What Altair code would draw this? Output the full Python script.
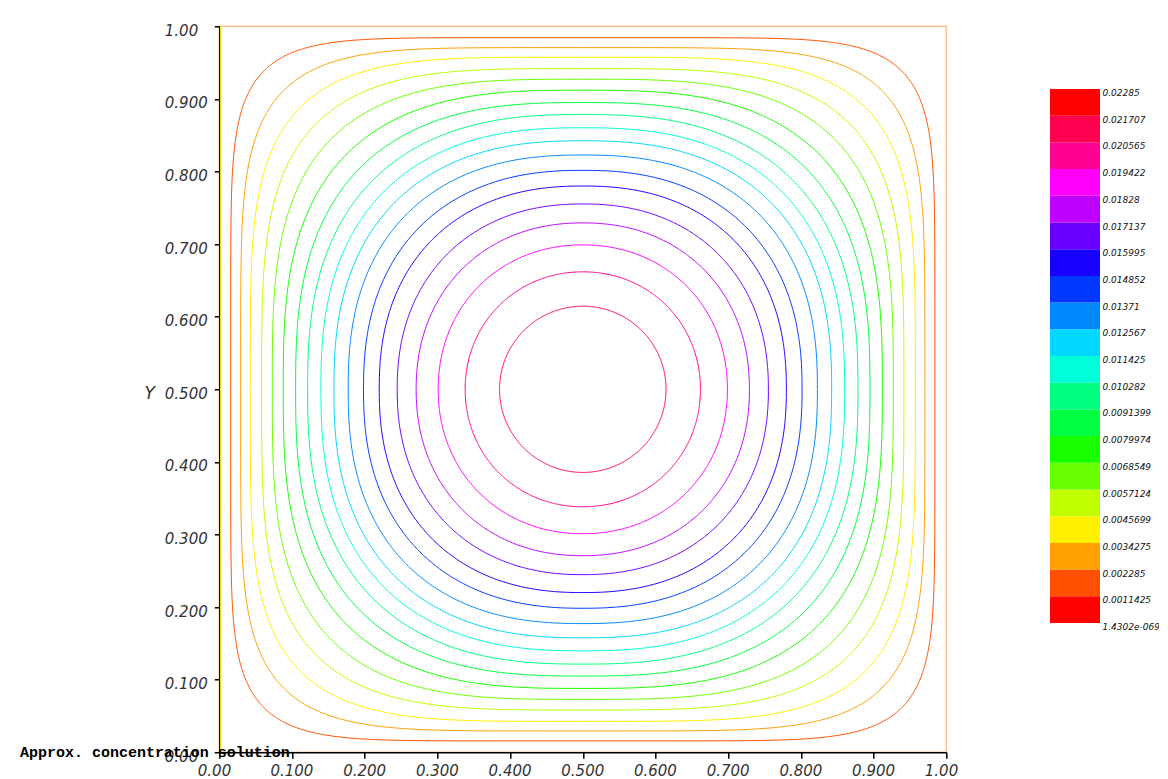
import numpy as np
import pandas as pd
import altair as alt

# ---------------- data ----------------
# contour index k -> iso value k * step
step = 0.0011425
contour_k = list(range(1, 19))
# x where each iso-line crosses the horizontal mid line y = 0.5 (left side)
x_left = [0.0157, 0.0294, 0.0426, 0.0583, 0.0729, 0.0880, 0.1050, 0.1215, 0.1398,
          0.1577, 0.1773, 0.1984, 0.2200, 0.2447, 0.2708, 0.3011, 0.3382, 0.3855]
# x where each iso-line crosses the diagonal y = 1 - x (upper-left quadrant)
diag_x = [0.0614, 0.0885, 0.1115, 0.1336, 0.1545, 0.1756, 0.1944, 0.2116, 0.2270,
          0.2420, 0.2582, 0.2760, 0.2934, 0.3137, 0.3342, 0.3575, 0.3848, 0.4190]

# colour bar: 20 bands from bottom (0) to top (19)
band_colors = ["#FF0000", "#FF5000", "#FFA000", "#FFF000", "#BFFF00", "#6AFF00",
               "#18FF00", "#00FF40", "#00FF80", "#00FFD8", "#00D8FF", "#0088FF",
               "#0038FF", "#1800FF", "#6A00FF", "#C000FF", "#FF00FF", "#FF0090",
               "#FF0050", "#FF0000"]
cb_labels = ["1.4302e-069", "0.0011425", "0.002285", "0.0034275", "0.0045699",
             "0.0057124", "0.0068549", "0.0079974", "0.0091399", "0.010282",
             "0.011425", "0.012567", "0.01371", "0.014852", "0.015995", "0.017137",
             "0.01828", "0.019422", "0.020565", "0.021707", "0.02285"]
cb_values = [float(s) for s in cb_labels]

tick_values = [i / 10 for i in range(11)]
tick_labels = ["0.00", "0.100", "0.200", "0.300", "0.400", "0.500",
               "0.600", "0.700", "0.800", "0.900", "1.00"]

title_text = "Approx. concentration solution"

# ---------------- build tables ----------------
rows = []
theta = np.linspace(0, 2 * np.pi, 721)
for k, xl, dx in zip(contour_k, x_left, diag_x):
    r = 0.5 - xl
    d = 0.5 - dx
    p = np.log(2) / np.log(r / d)
    c, s = np.cos(theta), np.sin(theta)
    xs = 0.5 + r * np.sign(c) * np.abs(c) ** (2 / p)
    ys = 0.5 + r * np.sign(s) * np.abs(s) ** (2 / p)
    for i, (xx, yy) in enumerate(zip(xs, ys)):
        rows.append({"contour": k, "band": k, "i": i, "x": xx, "y": yy})
df = pd.DataFrame(rows)

cb_df = pd.DataFrame({
    "band": list(range(20)),
    "lo": cb_values[:-1],
    "hi": cb_values[1:],
})
lab_df = pd.DataFrame({"val": cb_values, "lab": cb_labels})

vmax = cb_values[-1]
label_expr = "[" + ",".join("'" + s + "'" for s in tick_labels) + "][round(datum.value*10)]"

color_scale = alt.Scale(domain=list(range(20)), range=band_colors)
cb_y_scale = alt.Scale(domain=[0, vmax], range=[596.7, 62.7], nice=False, zero=False)

lines = alt.Chart(df).mark_line(strokeWidth=1).encode(
    x=alt.X("x:Q", scale=alt.Scale(domain=[0, 1], nice=False, zero=False),
            axis=alt.Axis(values=tick_values, labelExpr=label_expr, title=None,
                          tickSize=6, labelAlign="left", labelOffset=-22,
                          labelPadding=5, labelBaseline="top",
                          labelFlush=False, labelOverlap=False)),
    y=alt.Y("y:Q", scale=alt.Scale(domain=[0, 1], nice=False, zero=False),
            axis=alt.Axis(values=tick_values, labelExpr=label_expr, title="Y",
                          tickSize=5, labelAlign="left", labelBaseline="middle",
                          labelOffset=4, labelPadding=50,
                          titleAngle=0, titleX=-70, titleY=367,
                          titleAlign="center", titleBaseline="middle",
                          labelFlush=False, labelOverlap=False)),
    color=alt.Color("band:O", scale=color_scale, legend=None),
    detail="contour:N",
    order="i:Q",
)

edge = alt.Chart(pd.DataFrame({"a": [0]})).mark_rule(
    color="#FFEE00", strokeWidth=1.3, xOffset=1.5
).encode(x=alt.datum(0), y=alt.datum(0), y2=alt.datum(1))

main = alt.layer(edge, lines)

cb_rect = alt.Chart(cb_df).mark_rect().encode(
    y=alt.Y("lo:Q", scale=cb_y_scale, axis=None),
    y2="hi:Q",
    x=alt.value(830.7),
    x2=alt.value(880.7),
    color=alt.Color("band:O", scale=color_scale, legend=None),
)
cb_text = alt.Chart(lab_df).mark_text(
    align="left", baseline="middle", dy=4, fontSize=9, fontStyle="italic",
    font="DejaVu Sans", color="#111111"
).encode(
    y=alt.Y("val:Q", scale=cb_y_scale, axis=None),
    x=alt.value(883.2),
    text="lab:N",
)
cbar = alt.layer(cb_rect, cb_text)

chart = alt.layer(main, cbar).resolve_scale(
    x="independent", y="independent"
).properties(
    width=727,
    height=726,
    autosize=alt.AutoSizeParams(type="none"),
    padding={"left": 211.3, "top": 18.3, "right": 212.5, "bottom": 30},
    title=alt.TitleParams(
        text=title_text, orient="bottom", anchor="start", frame="group",
        font="Liberation Mono", fontSize=15, fontWeight="bold", color="black",
        dx=-199.3, dy=-21.5, offset=0, baseline="alphabetic",
    ),
).configure_view(
    stroke="#F9C394", strokeWidth=1.5
).configure_axis(
    grid=False,
    domainColor="black", domainWidth=1.5,
    tickColor="black", tickWidth=1.5,
    labelFont="DejaVu Sans", labelFontStyle="italic", labelFontSize=15,
    labelColor="#333333",
    titleFont="DejaVu Sans", titleFontStyle="italic", titleFontWeight="normal",
    titleFontSize=17, titleColor="#333333",
)

chart.save("out.html", embed_options={"renderer": "svg", "actions": False})
